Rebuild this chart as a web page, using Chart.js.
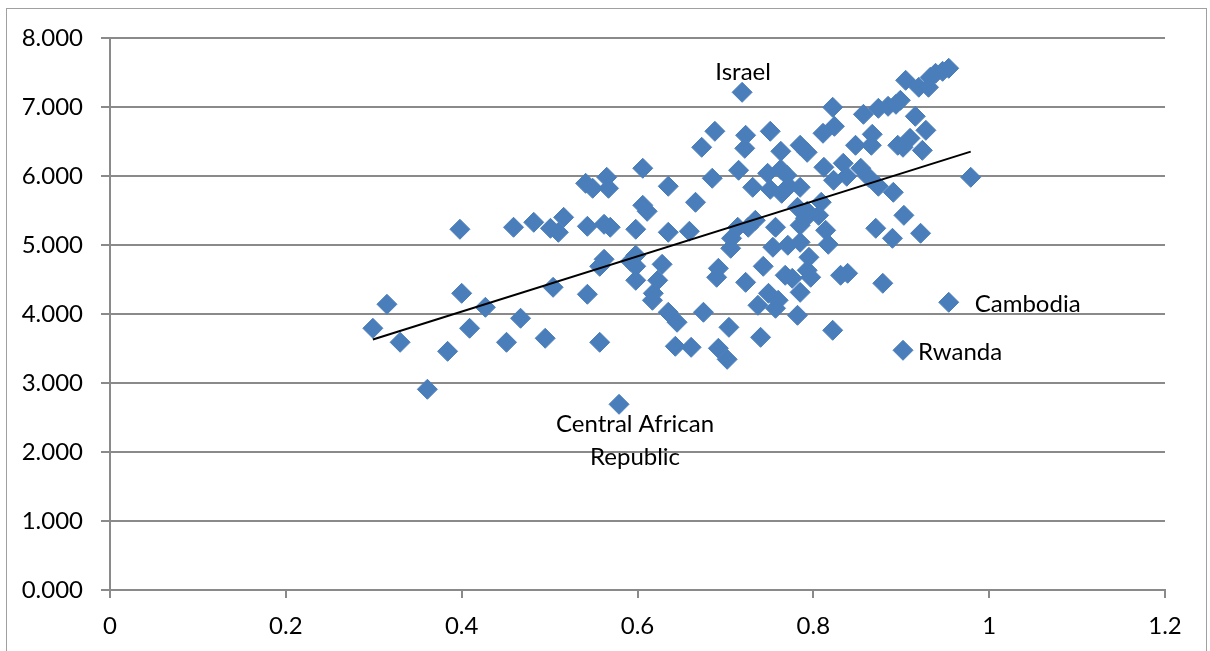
<!DOCTYPE html>
<html>
<head>
<meta charset="utf-8">
<script src="https://cdn.jsdelivr.net/npm/chart.js@4/dist/chart.umd.min.js"></script>
<style>
  html, body { margin: 0; padding: 0; background: #ffffff; }
  #wrap { position: relative; width: 1210px; height: 651px; overflow: hidden; }
  canvas { display: block; }
</style>
</head>
<body>
<div id="wrap"><canvas id="chart" width="1210" height="651"></canvas></div>
<script>
// Horizontal values of each country
const xValues = [
  0.299, 0.315, 0.330, 0.361, 0.384, 0.398, 0.400, 0.409, 0.427, 0.451,
  0.459, 0.467, 0.482, 0.495, 0.501, 0.504, 0.510, 0.516, 0.541, 0.543,
  0.543, 0.549, 0.557, 0.557, 0.562, 0.565, 0.567, 0.562, 0.569, 0.579,
  0.592, 0.598, 0.598, 0.598, 0.598, 0.606, 0.606, 0.611, 0.617, 0.618,
  0.623, 0.628, 0.635, 0.635, 0.635, 0.643, 0.645, 0.659, 0.661, 0.666,
  0.673, 0.675, 0.685, 0.688, 0.690, 0.692, 0.692, 0.702, 0.704, 0.706,
  0.707, 0.714, 0.715, 0.719, 0.722, 0.723, 0.723, 0.726, 0.731, 0.734,
  0.737, 0.740, 0.743, 0.748, 0.749, 0.751, 0.751, 0.754, 0.757, 0.757,
  0.760, 0.763, 0.763, 0.764, 0.768, 0.770, 0.771, 0.772, 0.776, 0.782,
  0.782, 0.785, 0.785, 0.785, 0.785, 0.785, 0.791, 0.793, 0.793, 0.795,
  0.797, 0.806, 0.809, 0.811, 0.812, 0.814, 0.817, 0.822, 0.822, 0.823,
  0.824, 0.831, 0.834, 0.838, 0.839, 0.848, 0.854, 0.857, 0.863, 0.867,
  0.866, 0.871, 0.874, 0.874, 0.879, 0.885, 0.890, 0.891, 0.894, 0.896,
  0.899, 0.902, 0.902, 0.903, 0.905, 0.910, 0.916, 0.920, 0.922, 0.924,
  0.928, 0.931, 0.933, 0.939, 0.947, 0.954, 0.954, 0.979, 0.793
];

// Vertical values of each country
const yValues = [
  3.793, 4.141, 3.590, 2.909, 3.459, 5.228, 4.300, 3.793, 4.097, 3.590,
  5.257, 3.938, 5.329, 3.648, 5.242, 4.387, 5.184, 5.401, 5.894, 5.271,
  4.286, 5.822, 3.590, 4.691, 4.793, 5.981, 5.822, 5.300, 5.257, 2.691,
  4.764, 4.851, 4.691, 5.228, 4.488, 6.112, 5.575, 5.488, 4.199, 4.300,
  4.488, 4.720, 5.851, 5.184, 4.025, 3.532, 3.880, 5.199, 3.517, 5.619,
  6.416, 4.025, 5.967, 6.648, 4.532, 4.662, 3.503, 3.343, 3.807, 4.952,
  5.097, 5.257, 6.083, 7.213, 6.401, 4.459, 6.590, 5.257, 5.836, 5.358,
  4.126, 3.662, 4.691, 6.039, 4.300, 6.648, 5.807, 4.967, 5.257, 4.083,
  4.199, 6.358, 6.097, 5.749, 4.561, 6.010, 4.996, 5.851, 4.517, 3.981,
  5.546, 6.445, 5.836, 5.286, 5.039, 4.314, 5.387, 6.343, 4.633, 4.822,
  4.532, 5.430, 5.619, 6.619, 6.126, 5.213, 5.010, 6.996, 3.764, 5.938,
  6.720, 4.561, 6.184, 5.996, 4.590, 6.445, 6.112, 6.894, 5.981, 6.604,
  6.445, 5.242, 5.851, 6.981, 4.445, 7.010, 5.097, 5.764, 7.039, 6.445,
  7.097, 6.416, 3.474, 5.430, 7.387, 6.546, 6.865, 7.286, 5.170, 6.372,
  6.662, 7.286, 7.430, 7.488, 7.517, 7.561, 4.170, 5.981, 5.488
];

// Y axis tick values
const yTicks = [0, 1, 2, 3, 4, 5, 6, 7, 8];
// X axis tick values
const xTicks = [0, 0.2, 0.4, 0.6, 0.8, 1, 1.2];

// Named countries and the index of their point
const namedPoints = [
  { text: ['Israel'], index: 63 },
  { text: ['Cambodia'], index: 146 },
  { text: ['Rwanda'], index: 132 },
  { text: ['Central African', 'Republic'], index: 29 }
];

// Least-squares linear trend over the data
function linearFit(xs, ys) {
  const n = xs.length;
  let sx = 0, sy = 0, sxx = 0, sxy = 0;
  for (let i = 0; i < n; i++) {
    sx += xs[i]; sy += ys[i];
    sxx += xs[i] * xs[i]; sxy += xs[i] * ys[i];
  }
  const slope = (n * sxy - sx * sy) / (n * sxx - sx * sx);
  const intercept = (sy - slope * sx) / n;
  return { slope, intercept };
}

const fit = linearFit(xValues, yValues);
const xMin = Math.min(...xValues);
const xMax = Math.max(...xValues);
const trendPoints = [xMin, xMax].map(x => ({ x, y: fit.intercept + fit.slope * x }));

const points = xValues.map((x, i) => ({ x, y: yValues[i] }));

const FONT = 'Lato, "Open Sans", sans-serif';
const GRID = '#8a8a8a';

// Country names beside their markers
const pointLabels = {
  id: 'pointLabels',
  afterDatasetsDraw(chart) {
    const meta = chart.getDatasetMeta(1);
    const ctx = chart.ctx;
    ctx.save();
    ctx.font = '24px ' + FONT;
    ctx.fillStyle = '#000000';
    ctx.textBaseline = 'middle';
    const place = {
      'Israel': { dx: 1, dy: -20, align: 'center' },
      'Cambodia': { dx: 26, dy: 2, align: 'left' },
      'Rwanda': { dx: 15, dy: 2, align: 'left' },
      'Central African': { dx: 16, dy: 20, align: 'center' }
    };
    namedPoints.forEach(p => {
      const el = meta.data[p.index];
      if (!el) return;
      const pos = place[p.text[0]];
      ctx.textAlign = pos.align;
      p.text.forEach((line, k) => {
        ctx.fillText(line, el.x + pos.dx, el.y + pos.dy + k * 33);
      });
    });
    ctx.restore();
  }
};

// Light frame round the whole chart
const frame = {
  id: 'frame',
  beforeDraw(chart) {
    const ctx = chart.ctx;
    ctx.save();
    ctx.strokeStyle = '#a0a0a0';
    ctx.lineWidth = 1;
    ctx.strokeRect(6.5, 8.5, 1200, 700);
    ctx.restore();
  }
};

new Chart(document.getElementById('chart'), {
  type: 'scatter',
  data: {
    datasets: [
      {
        type: 'line',
        data: trendPoints,
        borderColor: '#000000',
        borderWidth: 2,
        pointRadius: 0,
        fill: false,
        order: 0
      },
      {
        data: points,
        pointStyle: 'rectRot',
        pointRadius: 10,
        pointHoverRadius: 10,
        backgroundColor: '#4a7ebb',
        borderColor: '#4a7ebb',
        borderWidth: 1,
        order: 1
      }
    ]
  },
  options: {
    responsive: false,
    animation: false,
    events: [],
    layout: { padding: { top: 38, right: 45, left: 0, bottom: 0 } },
    plugins: {
      legend: { display: false },
      tooltip: { enabled: false },
      title: { display: false }
    },
    scales: {
      x: {
        type: 'linear',
        min: 0,
        max: 1.2,
        afterBuildTicks(scale) { scale.ticks = xTicks.map(v => ({ value: v })); },
        afterFit(scale) { scale.height = 61; },
        ticks: {
          color: '#000000',
          font: { family: FONT, size: 24 },
          padding: 14,
          maxRotation: 0,
          callback: v => String(Math.round(v * 10) / 10)
        },
        grid: {
          drawOnChartArea: false,
          drawTicks: true,
          tickLength: 8,
          color: GRID,
          lineWidth: 2
        },
        border: { color: GRID, width: 2 }
      },
      y: {
        type: 'linear',
        min: 0,
        max: 8,
        afterBuildTicks(scale) { scale.ticks = yTicks.map(v => ({ value: v })); },
        afterFit(scale) { scale.width = 110; },
        ticks: {
          color: '#000000',
          font: { family: FONT, size: 24 },
          padding: 18,
          callback: v => v.toFixed(3)
        },
        grid: {
          drawOnChartArea: true,
          drawTicks: true,
          tickLength: 9,
          color: GRID,
          lineWidth: 2
        },
        border: { color: GRID, width: 2 }
      }
    }
  },
  plugins: [frame, pointLabels]
});
</script>
</body>
</html>
